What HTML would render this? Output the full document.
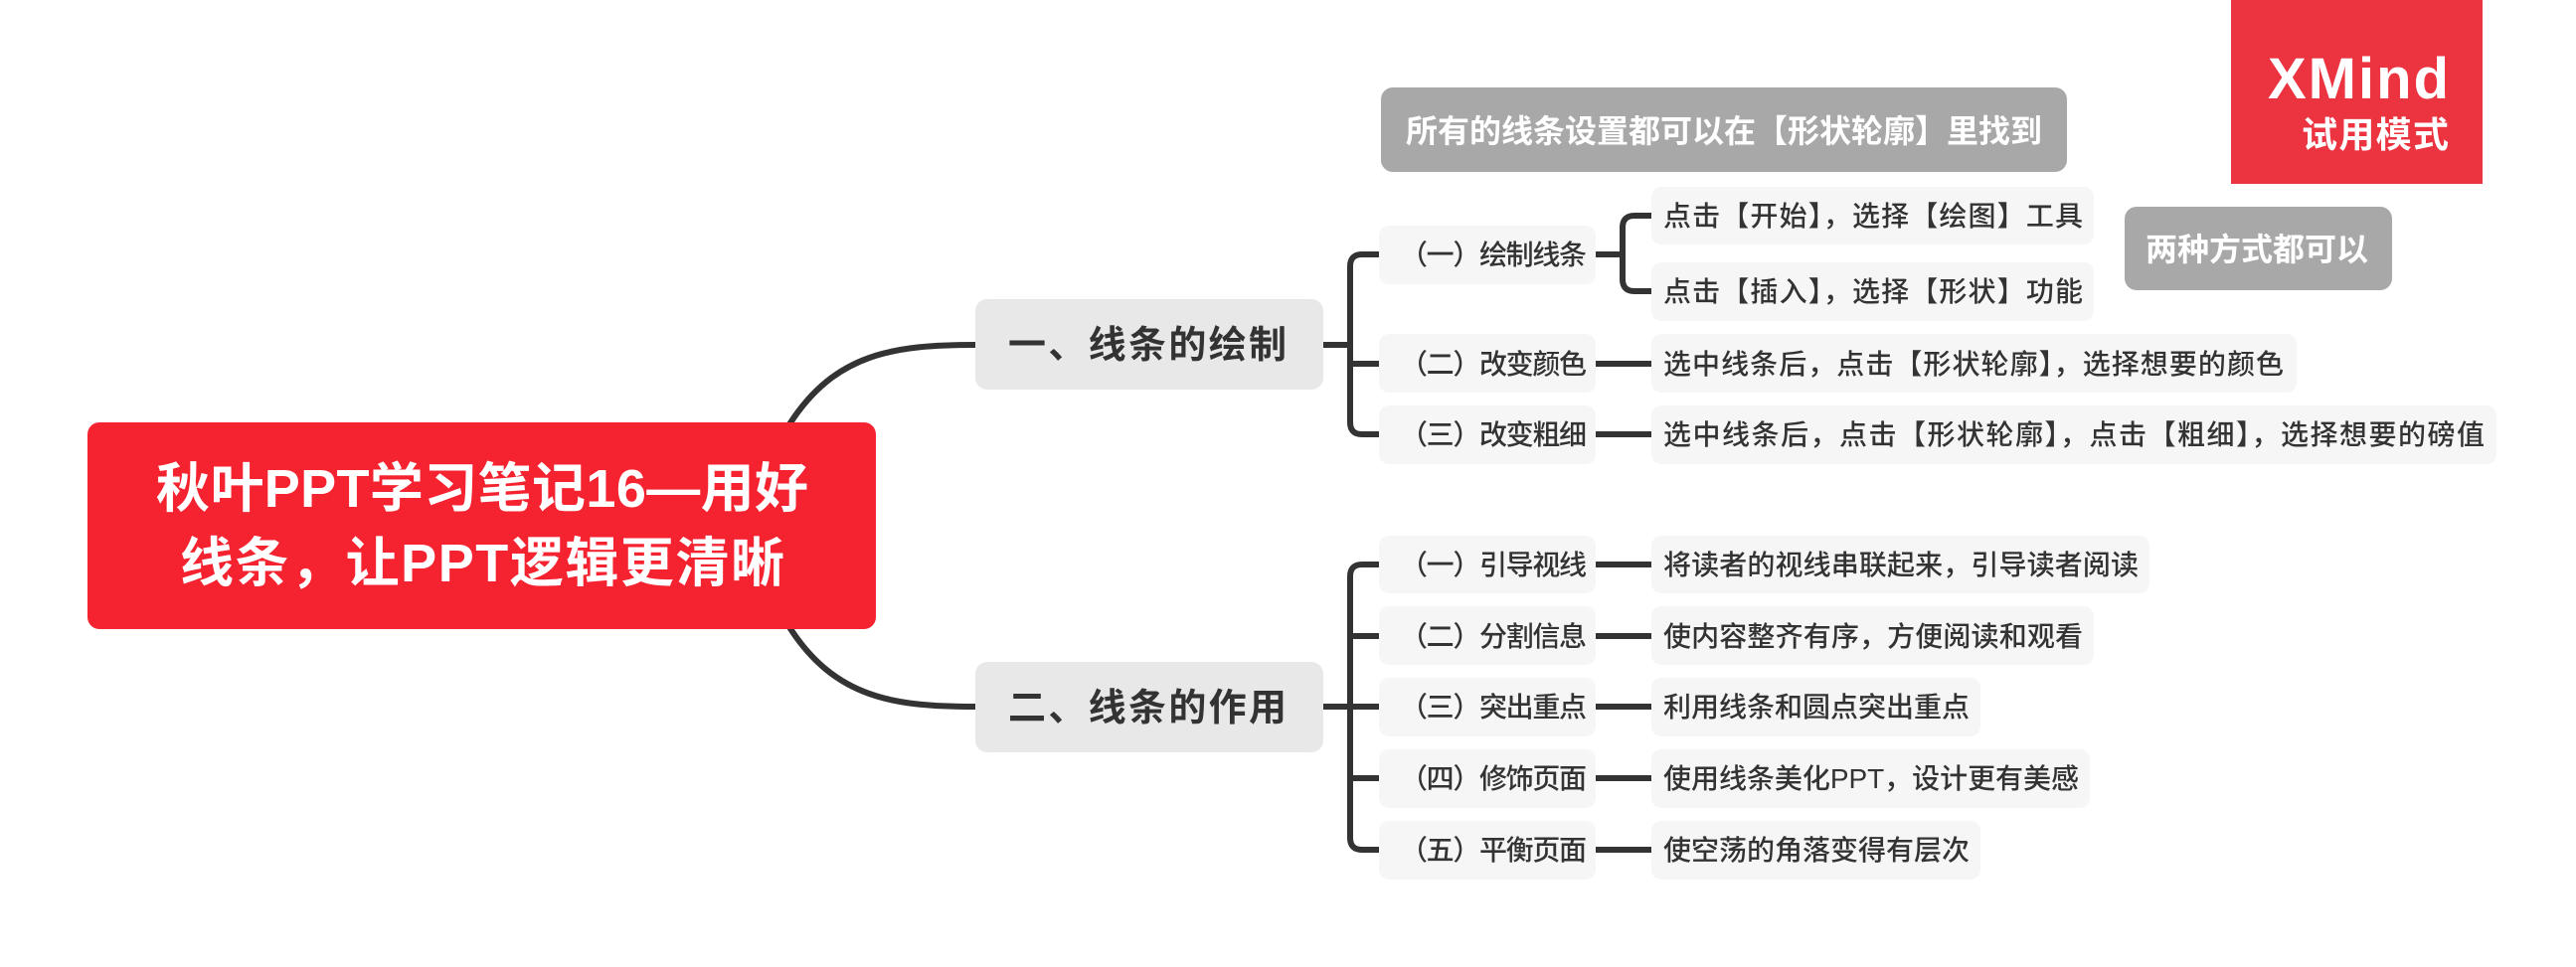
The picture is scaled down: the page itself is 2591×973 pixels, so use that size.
<!DOCTYPE html>
<html><head><meta charset="utf-8"><style>
html,body{margin:0;padding:0;background:#fff;}
svg{display:block;}
text{font-family:"Liberation Sans","Noto Sans CJK SC",sans-serif;}
</style></head><body>
<svg width="2591" height="973" viewBox="0 0 2591 973" xmlns="http://www.w3.org/2000/svg">
<rect width="2591" height="973" fill="#fff"/>
<g fill="none" stroke="#333" stroke-width="6" stroke-linecap="round">
<path d="M794 427 C840 355 900 347 981 347"/>
<path d="M794 631 C840 703 900 711 981 711"/>
<path d="M1331 347 H1358"/>
<path d="M1387 256 H1370 Q1358 256 1358 268 V425 Q1358 437 1370 437 H1387"/>
<path d="M1358 366 H1387"/>
<path d="M1605 256 H1632"/>
<path d="M1661 217 H1644 Q1632 217 1632 229 V281 Q1632 293 1644 293 H1661"/>
<path d="M1605 366 H1661"/><path d="M1605 437 H1661"/>
<path d="M1331 711 H1358"/>
<path d="M1387 568 H1370 Q1358 568 1358 580 V843 Q1358 855 1370 855 H1387"/>
<path d="M1358 640 H1387"/><path d="M1358 711 H1387"/><path d="M1358 783 H1387"/>
<path d="M1605 568 H1661"/><path d="M1605 640 H1661"/><path d="M1605 711 H1661"/><path d="M1605 783 H1661"/><path d="M1605 855 H1661"/>
</g>
<rect x="88" y="425" width="793" height="208" rx="12" fill="#f52230"/>
<g fill="#fff" font-size="54" font-weight="bold" text-anchor="middle">
<text x="485" y="510" textLength="656">秋叶PPT学习笔记16—用好</text>
<text x="485" y="585" textLength="608">线条，让PPT逻辑更清晰</text>
</g>
<rect x="981" y="301" width="350" height="91" rx="12" fill="#e8e8e8"/>
<rect x="981" y="666" width="350" height="91" rx="12" fill="#e8e8e8"/>
<g fill="#333" font-size="38" font-weight="bold">
<text x="1014" y="360" textLength="280">一、线条的绘制</text>
<text x="1014" y="725" textLength="280">二、线条的作用</text>
</g>
<g fill="#f6f6f6">
<rect x="1387" y="227" width="218" height="59" rx="10"/>
<rect x="1387" y="336" width="218" height="59" rx="10"/>
<rect x="1387" y="408" width="218" height="59" rx="10"/>
<rect x="1387" y="539" width="218" height="58" rx="10"/>
<rect x="1387" y="610" width="218" height="59" rx="10"/>
<rect x="1387" y="682" width="218" height="59" rx="10"/>
<rect x="1387" y="754" width="218" height="59" rx="10"/>
<rect x="1387" y="826" width="218" height="59" rx="10"/>
<rect x="1661" y="188" width="445" height="58" rx="10"/>
<rect x="1661" y="264" width="445" height="59" rx="10"/>
<rect x="1661" y="336" width="649" height="59" rx="10"/>
<rect x="1661" y="408" width="850" height="59" rx="10"/>
<rect x="1661" y="539" width="501" height="58" rx="10"/>
<rect x="1661" y="610" width="445" height="59" rx="10"/>
<rect x="1661" y="682" width="331" height="59" rx="10"/>
<rect x="1661" y="754" width="441" height="59" rx="10"/>
<rect x="1661" y="826" width="331" height="59" rx="10"/>
</g>
<g fill="#333" font-size="28" font-weight="500">
<text x="1408" y="266" textLength="188">（一）绘制线条</text>
<text x="1408" y="376" textLength="188">（二）改变颜色</text>
<text x="1408" y="447" textLength="188">（三）改变粗细</text>
<text x="1408" y="578" textLength="188">（一）引导视线</text>
<text x="1408" y="650" textLength="188">（二）分割信息</text>
<text x="1408" y="721" textLength="188">（三）突出重点</text>
<text x="1408" y="793" textLength="188">（四）修饰页面</text>
<text x="1408" y="865" textLength="188">（五）平衡页面</text>
<text x="1673" y="227" textLength="422">点击【开始】，选择【绘图】工具</text>
<text x="1673" y="303" textLength="422">点击【插入】，选择【形状】功能</text>
<text x="1673" y="376" textLength="624">选中线条后，点击【形状轮廓】，选择想要的颜色</text>
<text x="1673" y="447" textLength="826">选中线条后，点击【形状轮廓】，点击【粗细】，选择想要的磅值</text>
<text x="1673" y="578" textLength="478">将读者的视线串联起来，引导读者阅读</text>
<text x="1673" y="650" textLength="422">使内容整齐有序，方便阅读和观看</text>
<text x="1673" y="721" textLength="308">利用线条和圆点突出重点</text>
<text x="1673" y="793" textLength="418">使用线条美化PPT，设计更有美感</text>
<text x="1673" y="865" textLength="308">使空荡的角落变得有层次</text>
</g>
<rect x="1389" y="88" width="690" height="85" rx="12" fill="#a8a8a8"/>
<text x="1414" y="143" fill="#fff" font-size="32" font-weight="bold" textLength="640">所有的线条设置都可以在【形状轮廓】里找到</text>
<rect x="2137" y="208" width="269" height="84" rx="12" fill="#a8a8a8"/>
<text x="2158" y="262" fill="#fff" font-size="32" font-weight="bold" textLength="224">两种方式都可以</text>
<rect x="2244" y="0" width="253" height="185" fill="#ec3340"/>
<text x="2281" y="99" fill="#fff" font-size="58" font-weight="bold" textLength="182">XMind</text>
<text x="2315" y="148" fill="#fff" font-size="36" font-weight="bold" textLength="148">试用模式</text>
</svg>
</body></html>
